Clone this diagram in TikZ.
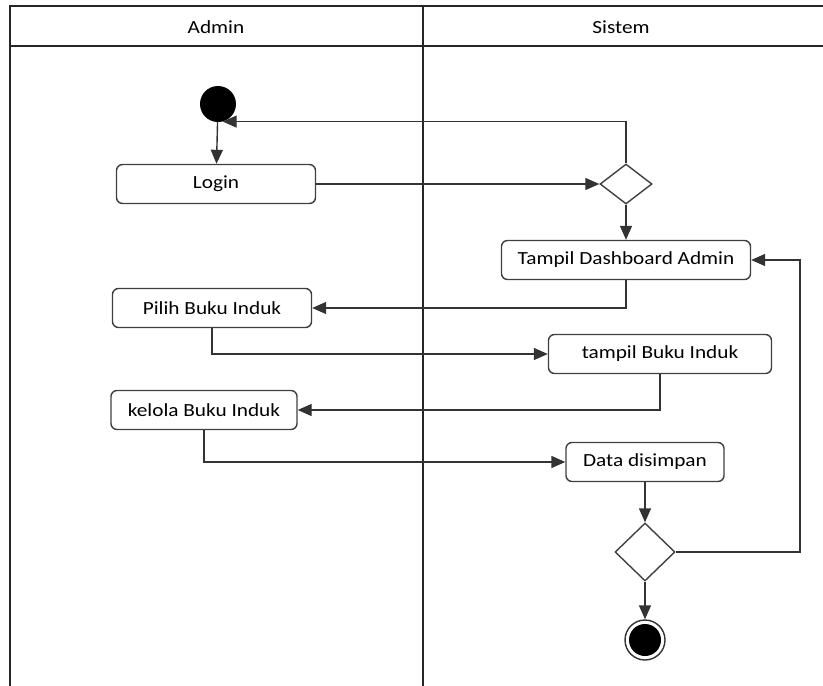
\documentclass[tikz,border=0pt]{standalone}
\usepackage{fontspec}
\setmainfont{Carlito}[FakeStretch=1.15]
\usetikzlibrary{arrows.meta,shapes.geometric,positioning,calc}

\tikzset{
  act/.style={draw=black!75, line width=1.4pt, rounded corners=6pt, minimum height=39pt,
              inner sep=0pt, font=\fontsize{18.5}{20}\selectfont, text=black},
  dec/.style={draw=black!75, line width=1.4pt, diamond, inner sep=0pt, aspect=1.3},
  arr/.style={draw=black!80, line width=1.4pt, -{Triangle[length=14pt,width=12pt]}},
  lane/.style={line width=2.2pt, black!85},
  lanetitle/.style={font=\fontsize{18.5}{20}\selectfont, text=black}
}

\begin{document}
\begin{tikzpicture}[x=1pt,y=-1pt]
\useasboundingbox (0,0) rectangle (823,686);
% swimlanes
\draw[lane] (10,686) -- (10,6) -- (823,6);
\draw[lane] (10,46) -- (823,46);
\draw[lane] (423,6) -- (423,686);
\node[lanetitle] (admin) at (216,27) {Admin};
\node[lanetitle] (sistem) at (621,27) {Sistem};

% nodes
\node[circle, fill=black, minimum size=36pt, inner sep=0pt] (start) at (218,104) {};
\node[act, minimum width=199pt] (login) at (216,184) {Login};
\node[dec, minimum width=52pt, minimum height=40pt] (cek1) at (626,184) {};
\node[act, minimum width=249pt] (dash) at (626,260) {Tampil Dashboard Admin};
\node[act, minimum width=199pt] (pilih) at (212,308) {Pilih Buku Induk};
\node[act, minimum width=223pt] (tampil) at (660,354) {tampil Buku Induk};
\node[act, minimum width=186pt] (kelola) at (204,410) {kelola Buku Induk};
\node[act, minimum width=158pt] (simpan) at (645,462) {Data disimpan};
\node[dec, minimum width=60pt, minimum height=58pt] (cek2) at (645,552) {};
\node[circle, draw=black!80, line width=1.4pt, minimum size=40pt, inner sep=0pt] (stop) at (645,640) {};
\node[circle, fill=black, minimum size=32pt, inner sep=0pt] at (stop) {};
\coordinate (balik) at (800,552);

% flows
\draw[arr] (start) -- (login);
\draw[arr] (login) -- (cek1);
\draw[arr] (cek1.north) |- (start.-75);
\draw[arr] (cek1) -- (dash);
\draw[arr] (dash.south) |- (pilih);
\draw[arr] (pilih.south) |- (tampil);
\draw[arr] (tampil.south) |- (kelola);
\draw[arr] (kelola.south) |- (simpan);
\draw[arr] (simpan) -- (cek2);
\draw[arr] (cek2.east) -- (balik) |- (dash);
\draw[arr] (cek2) -- (stop);
\end{tikzpicture}
\end{document}
